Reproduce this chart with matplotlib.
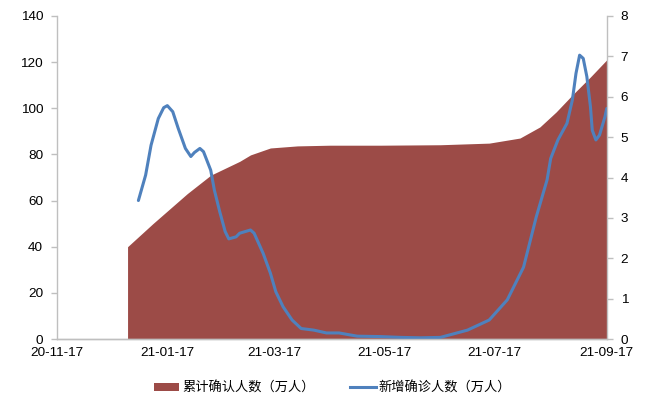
import pandas as pd
import matplotlib
matplotlib.use("Agg")
import matplotlib.pyplot as plt
import matplotlib.dates as mdates
from matplotlib.patches import Patch
from matplotlib.lines import Line2D

plt.rcParams['font.family'] = ['Liberation Sans', 'Noto Sans CJK SC', 'DejaVu Sans']

# 累计确认人数（万人）
cum_dates = ['2020-12-26', '2021-01-09', '2021-01-28', '2021-02-10', '2021-02-26',
             '2021-03-04', '2021-03-15', '2021-03-30', '2021-04-17', '2021-05-15',
             '2021-06-17', '2021-07-14', '2021-07-31', '2021-08-11', '2021-08-20',
             '2021-08-29', '2021-09-08', '2021-09-17']
cum_vals = [40, 50, 63, 71, 77, 79.8, 82.8, 83.7, 84, 84,
            84.2, 84.9, 87.1, 91.9, 98.4, 105.8, 113.6, 121]

# 新增确诊人数（万人）
new_dates = ['2021-01-01', '2021-01-05', '2021-01-08', '2021-01-12', '2021-01-15',
             '2021-01-17', '2021-01-20', '2021-01-23', '2021-01-27', '2021-01-30',
             '2021-02-01', '2021-02-04', '2021-02-06', '2021-02-10', '2021-02-12',
             '2021-02-15', '2021-02-18', '2021-02-20', '2021-02-24', '2021-02-26',
             '2021-03-04', '2021-03-06', '2021-03-11', '2021-03-15', '2021-03-18',
             '2021-03-22', '2021-03-27', '2021-04-01', '2021-04-08', '2021-04-15',
             '2021-04-22', '2021-05-02', '2021-05-15', '2021-05-26', '2021-06-06',
             '2021-06-17', '2021-07-02', '2021-07-14', '2021-07-24', '2021-08-02',
             '2021-08-09', '2021-08-15', '2021-08-17', '2021-08-21', '2021-08-26',
             '2021-08-29', '2021-08-31', '2021-09-02', '2021-09-04', '2021-09-06',
             '2021-09-08', '2021-09-09', '2021-09-11', '2021-09-13', '2021-09-16',
             '2021-09-17']
new_vals = [3.43, 4.06, 4.8, 5.46, 5.73, 5.78, 5.63, 5.22, 4.72, 4.52,
            4.62, 4.72, 4.64, 4.18, 3.69, 3.15, 2.66, 2.48, 2.53, 2.62,
            2.70, 2.62, 2.12, 1.63, 1.17, 0.80, 0.47, 0.26, 0.22, 0.15,
            0.15, 0.07, 0.06, 0.04, 0.03, 0.04, 0.22, 0.47, 0.97, 1.78,
            3.02, 3.94, 4.47, 4.93, 5.34, 5.92, 6.58, 7.03, 6.95, 6.50,
            5.75, 5.17, 4.93, 5.05, 5.50, 5.71]

tick_dates = ['2020-11-17', '2021-01-17', '2021-03-17', '2021-05-17', '2021-07-17', '2021-09-17']

area_color = '#9C4B47'
line_color = '#4F81BD'
axis_color = '#BFBFBF'

fig = plt.figure(figsize=(6.51, 4.01), dpi=100)
ax = fig.add_axes([0.0876, 0.1546, 0.8444, 0.8055])
ax2 = ax.twinx()

cd = pd.to_datetime(cum_dates)
nd = pd.to_datetime(new_dates)
ax.fill_between(cd, 0, cum_vals, color=area_color, linewidth=0)
ax2.plot(nd, new_vals, color=line_color, linewidth=2.2,
         solid_capstyle='round', solid_joinstyle='round')

ax.set_xlim(pd.Timestamp(tick_dates[0]), pd.Timestamp(tick_dates[-1]))
ax.set_ylim(0, 140)
ax2.set_ylim(0, 8)
ax.set_yticks(range(0, 141, 20))
ax2.set_yticks(range(0, 9))
ax.set_xticks(pd.to_datetime(tick_dates))
ax.xaxis.set_major_formatter(mdates.DateFormatter('%y-%m-%d'))

for a in (ax, ax2):
    a.spines['top'].set_visible(False)
    for s in ('left', 'right', 'bottom'):
        a.spines[s].set_color(axis_color)
        a.spines[s].set_linewidth(1)
    a.tick_params(axis='y', length=4, width=1, color=axis_color, labelsize=9.7, pad=6)
ax.tick_params(axis='x', length=0, labelsize=9.7, pad=6)
ax.spines['right'].set_visible(False)
ax2.spines['left'].set_visible(False)

handles = [Patch(facecolor=area_color, edgecolor='none'),
           Line2D([0], [0], color=line_color, linewidth=2.2)]
labels = ['累计确认人数（万人）', '新增确诊人数（万人）']
fig.legend(handles, labels, loc='center', bbox_to_anchor=(0.511, 0.032), ncol=2,
           frameon=False, prop={'family': ['Noto Sans CJK SC', 'DejaVu Sans'], 'size': 9.5},
           handlelength=1.9, handleheight=0.55, handletextpad=0.25, columnspacing=2.7)

fig.savefig('out.png', dpi=100)
